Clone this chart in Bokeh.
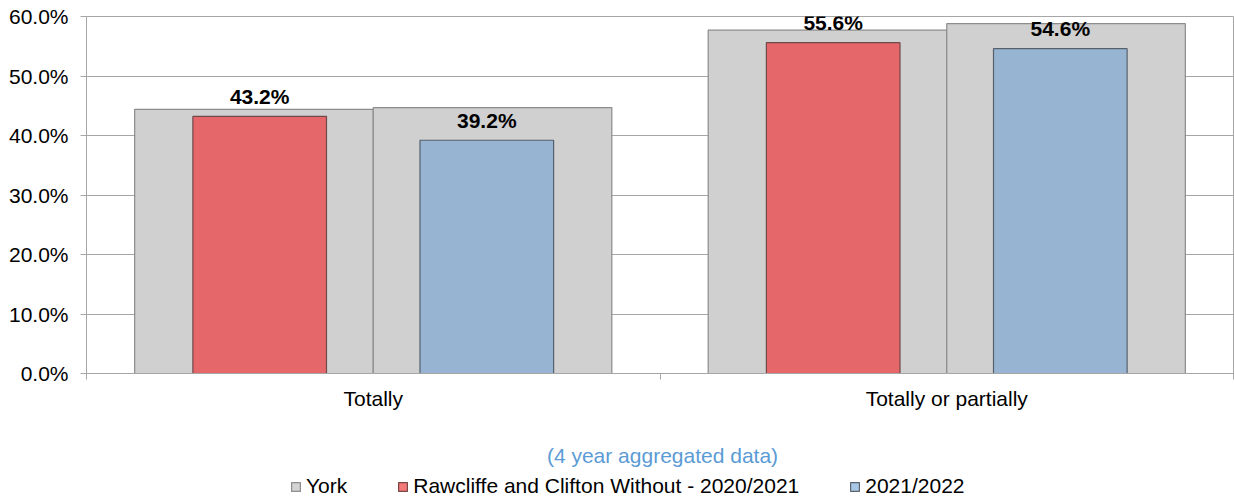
from bokeh.plotting import figure
from bokeh.layouts import column
from bokeh.models import (Range1d, FixedTicker, PrintfTickFormatter, ColumnDataSource,
                          LabelSet, Label, Legend, LegendItem)
from bokeh.core.properties import value
from bokeh.transform import dodge
from bokeh.embed import file_html
from bokeh.resources import INLINE

categories = ["Totally", "Totally or partially"]
york_2020 = [44.4, 57.7]
york_2021 = [44.7, 58.8]
ward_2020 = [43.2, 55.6]
ward_2021 = [39.2, 54.6]
y_ticks = [0, 10, 20, 30, 40, 50, 60]
subtitle = "(4 year aggregated data)"
legend_names = ["York", "Rawcliffe and Clifton Without - 2020/2021", "2021/2022"]

FONT = "Liberation Sans"
GRID = "#A6A6A6"
FS = "21px"
YORK_FILL, YORK_LINE = "#D0D0D0", "#8C8C8C"
RED_FILL, RED_LINE = "#E6676A", "#6E4A4A"
BLUE_FILL, BLUE_LINE = "#97B4D2", "#56606C"

xpos = [i + 0.5 for i in range(len(categories))]
src = ColumnDataSource(dict(
    x=xpos, y20=york_2020, y21=york_2021, w20=ward_2020, w21=ward_2021,
    l20=[f"{v:.1f}%" for v in ward_2020], l21=[f"{v:.1f}%" for v in ward_2021],
))

p = figure(width=1234, height=412, output_backend="svg", toolbar_location=None,
           x_range=Range1d(0, len(categories)), y_range=Range1d(0, 60),
           min_border_left=86, min_border_right=1, min_border_top=16, min_border_bottom=38)
p.background_fill_color = "white"
p.border_fill_color = "white"
p.outline_line_color = GRID
p.outline_line_width = 1

# York (background, wide bars)
p.vbar(x=dodge("x", -0.208, range=p.x_range), top="y20", width=0.416, source=src,
       fill_color=YORK_FILL, line_color=YORK_LINE, line_width=1.2)
p.vbar(x=dodge("x", 0.208, range=p.x_range), top="y21", width=0.416, source=src,
       fill_color=YORK_FILL, line_color=YORK_LINE, line_width=1.2)
# Ward
p.vbar(x=dodge("x", -0.198, range=p.x_range), top="w20", width=0.233, source=src,
       fill_color=RED_FILL, line_color=RED_LINE, line_width=1.2)
p.vbar(x=dodge("x", 0.198, range=p.x_range), top="w21", width=0.233, source=src,
       fill_color=BLUE_FILL, line_color=BLUE_LINE, line_width=1.2)

for col, lab, off in (("w20", "l20", -0.198), ("w21", "l21", 0.198)):
    p.add_layout(LabelSet(x=dodge("x", off, range=p.x_range), y=col, text=lab, source=src,
                          y_offset=20, text_align="center", text_baseline="middle",
                          text_font=value(FONT), text_font_size=value(FS),
                          text_font_style=value("bold"), text_color=value("black")))

# axes
p.yaxis.ticker = FixedTicker(ticks=y_ticks)
p.yaxis.formatter = PrintfTickFormatter(format="%.1f%%")
p.yaxis.axis_line_color = GRID
p.yaxis.major_tick_line_color = GRID
p.yaxis.major_tick_out = 6
p.yaxis.major_tick_in = 0
p.yaxis.minor_tick_line_color = None
p.yaxis.major_label_text_font = FONT
p.yaxis.major_label_text_font_size = FS
p.yaxis.major_label_text_color = "black"
p.yaxis.major_label_standoff = 12

p.xaxis.ticker = FixedTicker(ticks=xpos, minor_ticks=[0, 1, 2])
p.xaxis.major_label_overrides = {x: c for x, c in zip(xpos, categories)}
p.xaxis.axis_line_color = GRID
p.xaxis.major_tick_line_color = None
p.xaxis.major_tick_out = 0
p.xaxis.major_tick_in = 0
p.xaxis.minor_tick_line_color = GRID
p.xaxis.minor_tick_out = 6
p.xaxis.minor_tick_in = 0
p.xaxis.major_label_text_font = FONT
p.xaxis.major_label_text_font_size = FS
p.xaxis.major_label_text_color = "black"
p.xaxis.major_label_standoff = 7

p.xgrid.grid_line_color = None
p.ygrid.grid_line_color = GRID
p.ygrid.grid_line_width = 1

# footer: subtitle + legend (its frame is aligned with the main plot's frame)
f = figure(width=1234, height=90, output_backend="svg", toolbar_location=None,
           x_range=Range1d(0, 1), y_range=Range1d(0, 1),
           min_border=0, min_border_left=0, min_border_right=0, min_border_top=0, min_border_bottom=0)
f.axis.visible = False
f.grid.visible = False
f.outline_line_color = None
f.background_fill_color = "white"
f.border_fill_color = "white"

f.add_layout(Label(x=576, y=47, x_units="screen", y_units="screen", text=subtitle,
                   text_align="center", text_baseline="middle", text_font=FONT,
                   text_font_size=FS, text_color="#5B9BD5"))

nan = float("nan")
leg_styles = [("#D4D4D4", "#8C8C8C"), ("#F47A7A", "#7A4545"), ("#A9C8E6", "#5C6670")]
rends = [f.vbar(x=[nan], top=[nan], width=0.1, fill_color=fc, line_color=lc, line_width=1.2)
         for fc, lc in leg_styles]

legend = Legend(items=[LegendItem(label=n, renderers=[r]) for n, r in zip(legend_names, rends)],
                location=(204, 4), orientation="horizontal", padding=0, margin=0, spacing=50,
                glyph_width=11, glyph_height=11, label_standoff=5, label_height=20,
                label_text_font=FONT, label_text_font_size=FS, label_text_color="black",
                border_line_color=None, background_fill_alpha=0)
f.add_layout(legend, "center")

open("out.html", "w").write(file_html(column(p, f, spacing=0), INLINE))
